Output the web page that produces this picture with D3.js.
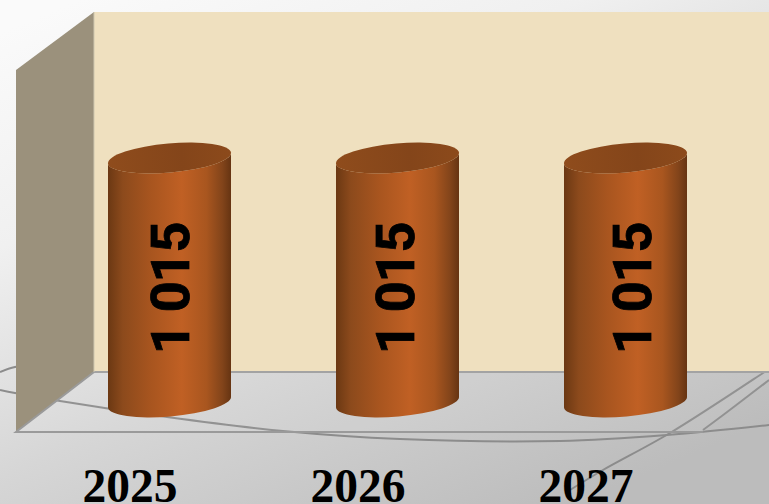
<!DOCTYPE html>
<html>
<head>
<meta charset="utf-8">
<script src="https://cdnjs.cloudflare.com/ajax/libs/d3/7.8.5/d3.min.js"></script>
<style>
html,body{margin:0;padding:0;background:#fff;overflow:hidden}
svg{display:block}
.domain,.tick line{display:none}
</style>
</head>
<body>
<svg id="chart" width="769" height="504"></svg>
<script>
const categories = ["2025", "2026", "2027"];
const seriesValues = [1015, 1015, 1015];
const valueLabels = ["1 015", "1 015", "1 015"];

const W = 769, H = 504;
const svg = d3.select("#chart");
const defs = svg.append("defs");

function linGrad(id, x1, y1, x2, y2, stops) {
  const g = defs.append("linearGradient").attr("id", id)
    .attr("x1", x1).attr("y1", y1).attr("x2", x2).attr("y2", y2);
  stops.forEach(s => g.append("stop").attr("offset", s[0]).attr("stop-color", s[1]));
}
linGrad("bg", "0.1", "0", "0.75", "1", [[0, "#fafafa"], [0.3, "#f0f0f0"], [0.62, "#d6d6d6"], [1, "#bcbcbc"]]);
linGrad("cyl", "0", "0", "1", "0", [
  [0, "#6b3813"], [0.12, "#8c4a1c"], [0.35, "#a8551f"], [0.6, "#c06024"],
  [0.8, "#a9561f"], [0.93, "#82441a"], [1, "#663412"]
]);
linGrad("capFill", "0", "0", "1", "0", [[0, "#8f4c1c"], [0.6, "#84451a"], [1, "#8c4a1b"]]);

const x = d3.scaleBand().domain(categories).range([55.5, 739.5]).paddingInner(105 / 228).paddingOuter(52.5 / 228);
const y = d3.scaleLinear().domain([0, 1200]).range([402, 402 - 244 * 1200 / 1015]);

// backdrop
svg.append("rect").attr("width", W).attr("height", H).attr("fill", "url(#bg)");

// decorative swooshes behind the chart
const swooshes = [
  [[0, 390], [15, 393], [60, 401], [167, 417], [283, 431], [400, 439], [560, 441], [667, 435], [769, 425]],
  [[0, 372], [15, 367], [40, 364]],
  [[570, 490], [603, 470], [670, 433], [763, 373], [769, 369]],
  [[703, 430], [735, 406], [769, 380]]
];
const curve = d3.line().curve(d3.curveCatmullRom);
svg.append("g").selectAll("path").data(swooshes).join("path")
  .attr("d", curve).attr("fill", "none").attr("stroke", "#8c8c8c").attr("stroke-width", 2);

// chart box: back wall, side wall, floor
const boxBack = 94, boxFront = 16, boxTop = 12, boxBackFloor = 372, boxFrontFloor = 432;
svg.append("rect").attr("x", boxBack).attr("y", boxTop)
  .attr("width", W - boxBack).attr("height", boxBackFloor - boxTop).attr("fill", "#efe0bf");
svg.append("path").attr("d", d3.line()([[boxFront, boxFrontFloor], [boxBack, boxBackFloor], [W + 12, boxBackFloor], [703, boxFrontFloor]]))
  .attr("fill", "#ffffff").attr("fill-opacity", 0.06);
svg.append("path").attr("d", d3.line()([[boxFront, 70], [boxBack, boxTop], [boxBack, boxBackFloor], [boxFront, boxFrontFloor]]))
  .attr("fill", "#9b917c");
svg.append("path").attr("d", d3.line()([[boxBack, boxBackFloor], [W, boxBackFloor]]))
  .attr("stroke", "#a3a3a3").attr("stroke-width", 2).attr("fill", "none");
svg.append("path").attr("d", d3.line()([[boxBack, boxBackFloor], [boxFront, boxFrontFloor], [703, boxFrontFloor]]))
  .attr("stroke", "#9a9a9a").attr("stroke-width", 2).attr("fill", "none");
svg.append("line").attr("x1", boxBack).attr("x2", boxBack).attr("y1", boxTop).attr("y2", boxBackFloor)
  .attr("stroke", "#cfc7b0").attr("stroke-width", 1);

// cylinders
const tiltDeg = -5, ry = 14.5;
const bars = svg.append("g").selectAll("g").data(categories.map((c, i) => ({ c, v: seriesValues[i], label: valueLabels[i] })))
  .join("g");
bars.each(function (d) {
  const g = d3.select(this);
  const bw = x.bandwidth(), rx = bw / 2;
  const cx = x(d.c) + rx, top = y(d.v), base = y(0);
  const dy = Math.tan(tiltDeg * Math.PI / 180) * rx;
  const lx = cx - rx, rxp = cx + rx;
  const body = `M${lx},${top - dy} L${lx},${base - dy} A${rx},${ry} ${tiltDeg} 0 0 ${rxp},${base + dy} L${rxp},${top + dy} A${rx},${ry} ${tiltDeg} 0 1 ${lx},${top - dy} Z`;
  g.append("path").attr("d", body).attr("fill", "url(#cyl)");
  g.append("ellipse").attr("cx", cx).attr("cy", top).attr("rx", rx / Math.cos(tiltDeg * Math.PI / 180)).attr("ry", ry)
    .attr("transform", `rotate(${tiltDeg} ${cx} ${top})`).attr("fill", "url(#capFill)");
});

// value labels (turned a quarter to read upward)
const labelShift = [1, -1.5, 7.5];
bars.append("text")
  .attr("transform", (d, i) => `translate(${x(d.c) + x.bandwidth() / 2 + labelShift[i] + 18},${y(d.v / 2) + 8.5}) rotate(-90)`)
  .attr("text-anchor", "middle")
  .attr("font-family", "Roboto, Arial, sans-serif")
  .attr("font-weight", "bold").attr("font-size", 54).attr("letter-spacing", -1.2)
  .attr("fill", "#000").attr("stroke", "#000").attr("stroke-width", 0.8)
  .text(d => d.label);

// category axis
const axis = d3.axisBottom(x).tickSize(0).tickPadding(0);
const ax = svg.append("g").attr("transform", "translate(-39.5,502)").call(axis);
ax.selectAll("text")
  .attr("y", 0).attr("dy", 0)
  .attr("font-family", "'Liberation Serif', 'Times New Roman', serif")
  .attr("font-weight", "bold").attr("font-size", 47.5).attr("fill", "#000");
</script>
</body>
</html>
